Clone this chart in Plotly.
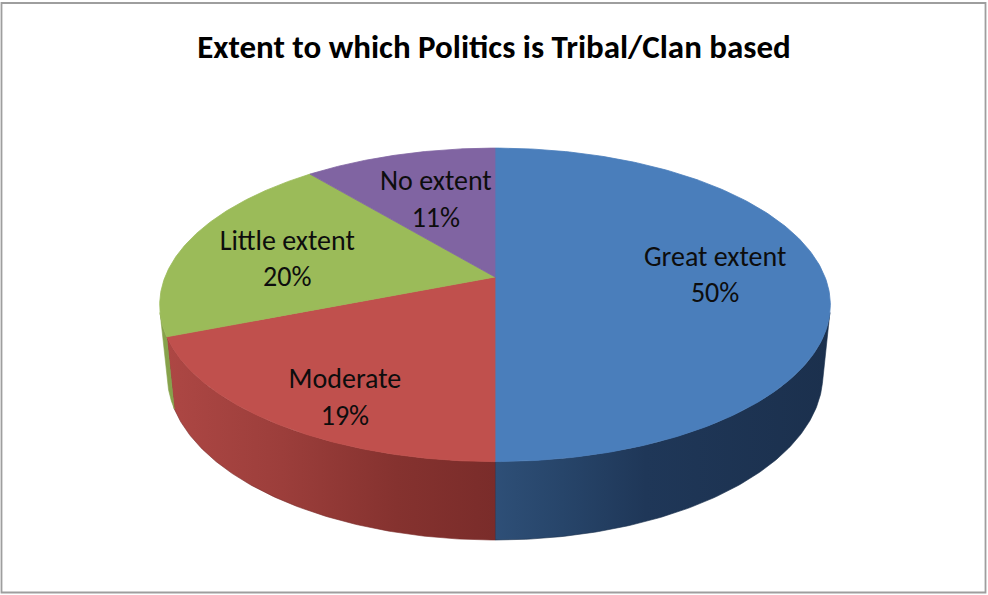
import numpy as np
import plotly.graph_objects as go

# ---- data ----
categories = ["Great extent", "Moderate", "Little extent", "No extent"]
shares = [50, 19, 20, 11]  # percent

# ---- styling ----
top_colors = ["#4a7ebb", "#c0504d", "#9bbb59", "#8064a2"]
wall_scales = [
    [[0.0, "#2e4f77"], [0.2, "#27456a"], [0.45, "#1f3758"], [1.0, "#1b304d"]],
    [[0.0, "#ad4744"], [0.35, "#9c3e3b"], [0.7, "#85322f"], [1.0, "#7a2c2a"]],
    [[0.0, "#86a24b"], [1.0, "#86a24b"]],
    [[0.0, "#5e4879"], [1.0, "#5e4879"]],
]
label_frac = [0.5, 0.43, 0.43, 0.5]      # position along each slice's arc
label_radius = [0.667, 0.81, 0.65, 0.58]  # fraction of pie radius
FONT = "Carlito, Calibri, Lato, sans-serif"

W, H = 988, 595

# ---- simple perspective camera for a tilted cylinder ----
CX, CY = 495.0, 277.0      # screen position of the pie centre
SCALE = 330.0              # pixels per unit radius
ELEV = np.arcsin(0.46)     # viewing elevation
DIST = 5.0                 # camera distance (units of radius)
THICK = 0.24               # pie thickness (units of radius)
SE, CE = np.sin(ELEV), np.cos(ELEV)


def project(theta, r, z):
    """theta clockwise from the back of the pie, r radius, z height."""
    u = r * np.sin(theta)
    v = r * np.cos(theta)
    k = DIST / (DIST + v * CE - z * SE)
    return CX + SCALE * u * k, CY - SCALE * (v * SE + z * CE) * k


total = float(sum(shares))
bounds = np.concatenate([[0.0], np.cumsum(shares)]) / total * 2 * np.pi

fig = go.Figure()

# outer walls: only the part facing the viewer
t_front = np.arccos(-1.0 / (DIST * CE))
for i in range(len(shares)):
    a0 = max(bounds[i], t_front)
    a1 = min(bounds[i + 1], 2 * np.pi - t_front)
    if a1 <= a0:
        continue
    th = np.linspace(a0, a1, 120)
    xt, yt = project(th, 1.0, 0.0)
    xb, yb = project(th[::-1], 1.0, -THICK)
    xs = np.concatenate([xt, xb, xt[:1]])
    ys = np.concatenate([yt, yb, yt[:1]])
    fig.add_trace(go.Scatter(
        x=xs, y=ys, mode="lines", fill="toself",
        line=dict(width=0.6, color=wall_scales[i][-1][1]),
        fillgradient=dict(type="horizontal", colorscale=wall_scales[i],
                          start=float(xs.min()), stop=float(xs.max())),
        hoverinfo="skip", showlegend=False,
    ))

# top faces
for i in range(len(shares)):
    th = np.linspace(bounds[i], bounds[i + 1], 200)
    xr, yr = project(th, 1.0, 0.0)
    xs = np.concatenate([[CX], xr, [CX]])
    ys = np.concatenate([[CY], yr, [CY]])
    fig.add_trace(go.Scatter(
        x=xs, y=ys, mode="lines", fill="toself",
        fillcolor=top_colors[i], line=dict(width=0.8, color=top_colors[i]),
        name=categories[i], hoverinfo="name", showlegend=False,
    ))

# data labels
lx, ly, lt = [], [], []
for i, (cat, val) in enumerate(zip(categories, shares)):
    th = bounds[i] + label_frac[i] * (bounds[i + 1] - bounds[i])
    x, y = project(th, label_radius[i], 0.0)
    lx.append(x)
    ly.append(y)
    lt.append(f"{cat}<br>{val}%")
fig.add_trace(go.Scatter(
    x=lx, y=ly, mode="text", text=lt, textposition="middle center",
    textfont=dict(family=FONT, size=28, color="#0d0d0d"),
    hoverinfo="skip", showlegend=False,
))

fig.update_layout(
    width=W, height=H,
    margin=dict(l=0, r=0, t=0, b=0),
    paper_bgcolor="white", plot_bgcolor="white",
    title=dict(text="Extent to which Politics is Tribal/Clan based",
               x=0.5, xanchor="center", y=1 - 46 / H, yanchor="middle",
               yref="container",
               font=dict(family=FONT, size=33, color="#000000", weight="bold")),
    xaxis=dict(range=[0, W], visible=False, fixedrange=True),
    yaxis=dict(range=[H, 0], visible=False, fixedrange=True),
    shapes=[dict(type="rect", xref="paper", yref="paper",
                 x0=1.5 / W, x1=1 - 2.5 / W, y0=2.5 / H, y1=1 - 3 / H,
                 line=dict(color="#9e9e9e", width=1.8))],
)

fig.write_html("out.html")
